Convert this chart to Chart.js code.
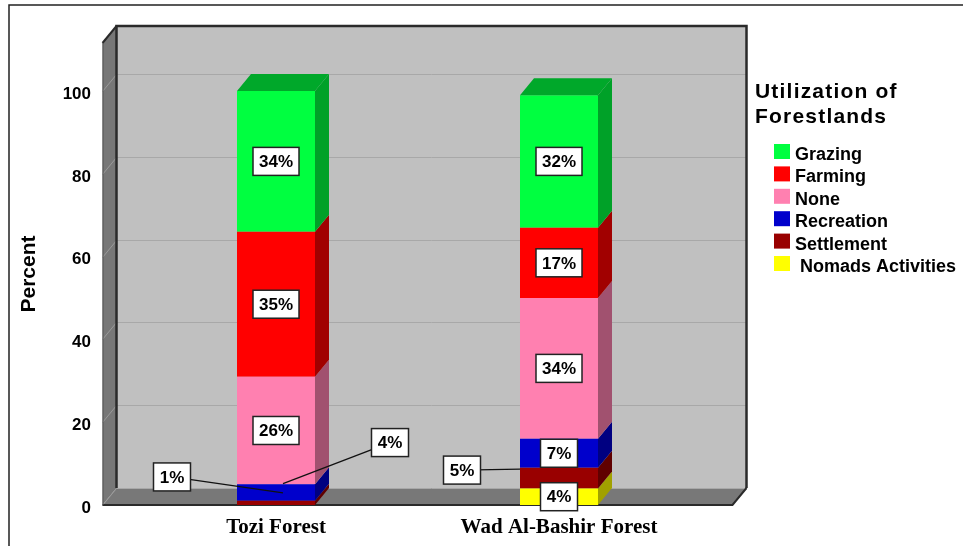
<!DOCTYPE html>
<html>
<head>
<meta charset="utf-8">
<title>Utilization of Forestlands</title>
<script src="https://cdn.jsdelivr.net/npm/chart.js@4.4.1/dist/chart.umd.min.js"></script>
<style>
  html, body { margin: 0; padding: 0; background: #ffffff; }
  #wrap { position: relative; width: 963px; height: 546px; }
</style>
</head>
<body>
<div id="wrap"><canvas id="chart"></canvas></div>
<script>
// ---- data ----
const categories = ['Tozi Forest', 'Wad Al-Bashir Forest'];
const nomads     = [0, 4];
const settlement = [1, 5];
const recreation = [4, 7];
const none       = [26, 34];
const farming    = [35, 17];
const grazing    = [34, 32];
const yTicks     = [0, 20, 40, 60, 80, 100];
const legendTitle = ['Utilization of', 'Forestlands'];

// ---- look ----
const FONT = "'Liberation Sans', Arial, sans-serif";
const SERIF = "'Liberation Serif', 'Times New Roman', serif";
const DEPTH = { dx: 14, dy: -17 };      // 3D offset of back planes
const WALL_PAD = 32;                     // wall overhang beyond the plotting band
const SHADE = 0.63;                      // darkening of side / top faces

const series = [
  { label: ' Nomads Activities', data: nomads,     color: '#ffff00' },
  { label: 'Settlement',         data: settlement, color: '#990000' },
  { label: 'Recreation',         data: recreation, color: '#0000cc' },
  { label: 'None',               data: none,       color: '#ff80b0' },
  { label: 'Farming',            data: farming,    color: '#ff0000' },
  { label: 'Grazing',            data: grazing,    color: '#00ff40' }
];

// value boxes that sit outside small segments: label offset and leader end (from segment centre)
const callouts = {
  '1:0': { dx: -104, dy: -26, tx: 7,   ty: -10 },
  '2:0': { dx: 114,  dy: -50, tx: 7,   ty: -9 },
  '1:1': { dx: -97,  dy: -8,  tx: -39, ty: -9 }
};

function shade(hex, f) {
  const n = parseInt(hex.slice(1), 16);
  const r = Math.round(((n >> 16) & 255) * f);
  const g = Math.round(((n >> 8) & 255) * f);
  const b = Math.round((n & 255) * f);
  return `rgb(${r},${g},${b})`;
}

// walls, floor and grid of the 3D box
const box3d = {
  id: 'box3d',
  beforeDatasetsDraw(chart) {
    const { ctx, chartArea: a, scales: { y } } = chart;
    const { dx, dy } = DEPTH;
    const fl = a.left - WALL_PAD, fr = a.right + WALL_PAD;
    const top = a.top, bot = a.bottom;
    ctx.save();
    // side wall
    ctx.fillStyle = '#777777';
    ctx.beginPath();
    ctx.moveTo(fl, top); ctx.lineTo(fl + dx, top + dy);
    ctx.lineTo(fl + dx, bot + dy); ctx.lineTo(fl, bot); ctx.closePath(); ctx.fill();
    // back wall
    ctx.fillStyle = '#c0c0c0';
    ctx.fillRect(fl + dx, top + dy, fr - fl, bot - top);
    // floor
    ctx.fillStyle = '#787878';
    ctx.beginPath();
    ctx.moveTo(fl, bot); ctx.lineTo(fl + dx, bot + dy);
    ctx.lineTo(fr + dx, bot + dy); ctx.lineTo(fr, bot); ctx.closePath(); ctx.fill();
    // grid lines
    ctx.lineWidth = 1;
    yTicks.forEach(v => {
      const py = Math.round(y.getPixelForValue(v)) + 0.5;
      ctx.strokeStyle = '#a8a8a8';
      ctx.beginPath();
      ctx.moveTo(fl + dx, py + dy); ctx.lineTo(fr + dx, py + dy); ctx.stroke();
      ctx.strokeStyle = '#9a9a9a';
      ctx.beginPath();
      ctx.moveTo(fl, py); ctx.lineTo(fl + dx, py + dy); ctx.stroke();
    });
    // edges
    ctx.strokeStyle = '#2a2a2a';
    ctx.lineWidth = 2.5;
    ctx.beginPath();
    ctx.moveTo(fl + dx, bot + dy); ctx.lineTo(fl + dx, top + dy);
    ctx.lineTo(fr + dx, top + dy); ctx.lineTo(fr + dx, bot + dy);
    ctx.stroke();
    ctx.lineWidth = 2;
    ctx.beginPath();
    ctx.moveTo(fl, top); ctx.lineTo(fl + dx, top + dy); ctx.stroke();
    ctx.beginPath();
    ctx.moveTo(fl, bot); ctx.lineTo(fr, bot); ctx.lineTo(fr + dx, bot + dy); ctx.stroke();
    ctx.strokeStyle = '#555555';
    ctx.lineWidth = 1;
    ctx.beginPath();
    ctx.moveTo(fl + 0.5, top); ctx.lineTo(fl + 0.5, bot); ctx.stroke();
    ctx.restore();
  },
  afterDatasetsDraw(chart) {
    const { ctx } = chart;
    const { dx, dy } = DEPTH;
    const n = categories.length;
    // topmost drawn segment per category
    const topIdx = new Array(n).fill(-1);
    series.forEach((s, di) => s.data.forEach((v, i) => { if (v > 0) topIdx[i] = di; }));
    ctx.save();
    series.forEach((s, di) => {
      const meta = chart.getDatasetMeta(di);
      meta.data.forEach((bar, i) => {
        if (!(s.data[i] > 0)) return;
        const { x, y, base, width } = bar.getProps(['x', 'y', 'base', 'width'], true);
        const lx = x - width / 2, rx = x + width / 2;
        ctx.fillStyle = shade(s.color, SHADE);
        ctx.beginPath();
        ctx.moveTo(rx, y); ctx.lineTo(rx + dx, y + dy);
        ctx.lineTo(rx + dx, base + dy); ctx.lineTo(rx, base); ctx.closePath(); ctx.fill();
        if (topIdx[i] === di) {
          ctx.fillStyle = shade(s.color, SHADE + 0.03);
          ctx.beginPath();
          ctx.moveTo(lx, y); ctx.lineTo(lx + dx, y + dy);
          ctx.lineTo(rx + dx, y + dy); ctx.lineTo(rx, y); ctx.closePath(); ctx.fill();
        }
      });
    });
    // value boxes
    ctx.font = `bold 17px ${FONT}`;
    ctx.textAlign = 'center';
    ctx.textBaseline = 'middle';
    series.forEach((s, di) => {
      const meta = chart.getDatasetMeta(di);
      meta.data.forEach((bar, i) => {
        const v = s.data[i];
        if (!(v > 0)) return;
        const { x, y, base } = bar.getProps(['x', 'y', 'base'], true);
        const cy = (y + base) / 2;
        const c = callouts[di + ':' + i];
        const bx = x + (c ? c.dx : 0), by = cy + (c ? c.dy : 0);
        if (c) {
          ctx.strokeStyle = '#111111';
          ctx.lineWidth = 1.3;
          ctx.beginPath();
          ctx.moveTo(bx, by); ctx.lineTo(x + c.tx, cy + c.ty); ctx.stroke();
        }
        const text = v + '%';
        const w = Math.round(ctx.measureText(text).width) + 12, h = 28;
        ctx.fillStyle = '#ffffff';
        ctx.fillRect(bx - w / 2, by - h / 2, w, h);
        ctx.strokeStyle = '#222222';
        ctx.lineWidth = 1.5;
        ctx.strokeRect(bx - w / 2, by - h / 2, w, h);
        ctx.fillStyle = '#000000';
        ctx.fillText(text, bx, by + 1);
      });
    });
    ctx.restore();
  },
  afterDraw(chart) {
    const { ctx } = chart;
    ctx.save();
    // outer frame
    ctx.strokeStyle = '#222222';
    ctx.lineWidth = 1.5;
    ctx.beginPath();
    ctx.moveTo(9, 546); ctx.lineTo(9, 5); ctx.lineTo(963, 5); ctx.stroke();
    // legend
    ctx.fillStyle = '#000000';
    ctx.textAlign = 'left';
    ctx.textBaseline = 'alphabetic';
    ctx.font = `bold 21px ${FONT}`;
    if ('letterSpacing' in ctx) ctx.letterSpacing = '1.2px';
    legendTitle.forEach((t, k) => ctx.fillText(t, 755, 98 + k * 25));
    if ('letterSpacing' in ctx) ctx.letterSpacing = '0px';
    ctx.font = `bold 18px ${FONT}`;
    const items = series.slice().reverse();
    items.forEach((s, k) => {
      const ry = 144 + k * 22.4;
      ctx.fillStyle = s.color;
      ctx.fillRect(774, ry, 16, 15);
      ctx.fillStyle = '#000000';
      ctx.fillText(s.label, 795, ry + 16);
    });
    ctx.restore();
  }
};

new Chart(document.getElementById('chart'), {
  type: 'bar',
  data: {
    labels: categories,
    datasets: series.map(s => ({
      label: s.label.trim(),
      data: s.data,
      backgroundColor: s.color,
      borderWidth: 0,
      categoryPercentage: 1,
      barPercentage: 0.2756
    }))
  },
  options: {
    responsive: true,
    maintainAspectRatio: false,
    animation: false,
    layout: { padding: { top: 43, right: 262.5, left: 0, bottom: 0 } },
    plugins: { legend: { display: false }, tooltip: { enabled: false } },
    scales: {
      x: {
        stacked: true,
        offset: true,
        grid: { display: false, drawTicks: false },
        border: { display: false },
        ticks: {
          color: '#000000',
          font: { family: SERIF, size: 21, weight: 'bold' },
          padding: 10,
          maxRotation: 0,
          autoSkip: false
        },
        afterFit(scale) {
          scale.height = 41;
          scale.paddingLeft = 0; scale.paddingRight = 0;
        }
      },
      y: {
        stacked: true,
        min: 0,
        max: 111.6,
        grid: { display: false, drawTicks: false },
        border: { display: false },
        afterBuildTicks(scale) { scale.ticks = yTicks.map(v => ({ value: v })); },
        ticks: {
          color: '#000000',
          font: { family: FONT, size: 17, weight: 'bold' },
          padding: 43.5,
          labelOffset: 3
        },
        title: {
          display: true,
          text: 'Percent',
          color: '#000000',
          font: { family: FONT, size: 21, weight: 'bold' },
          padding: { top: 17, bottom: 0 }
        },
        afterFit(scale) {
          scale.width = 134.5;
          scale.paddingTop = 0; scale.paddingBottom = 0;
        }
      }
    }
  },
  plugins: [box3d]
});
</script>
</body>
</html>
